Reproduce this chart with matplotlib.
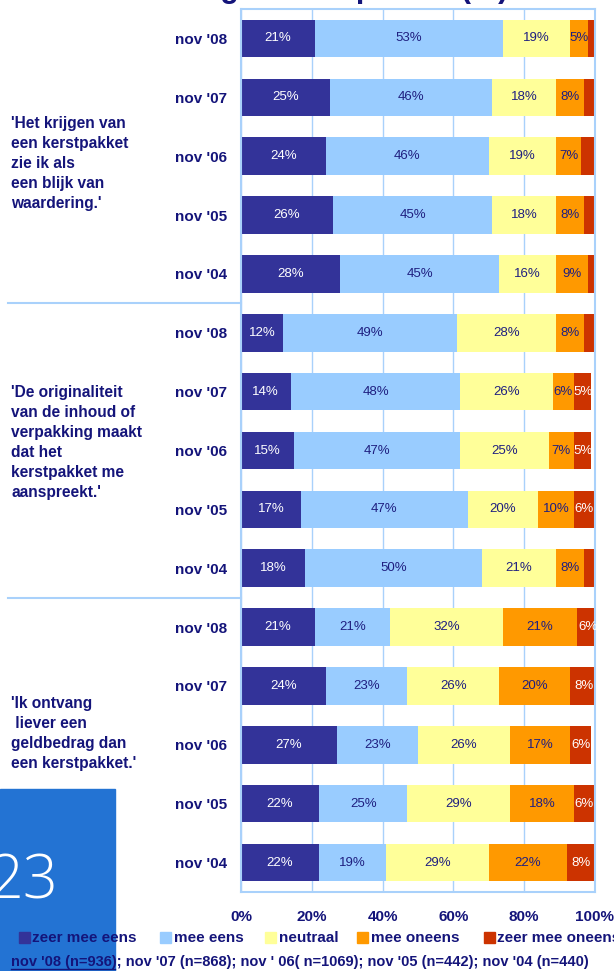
import matplotlib
matplotlib.use("Agg")
import matplotlib.pyplot as plt
from matplotlib.patches import Rectangle
from matplotlib.lines import Line2D
import matplotlib.transforms as mtransforms
import numpy as np

plt.rcParams['font.family'] = ['Liberation Sans', 'DejaVu Sans']

# ---- data -------------------------------------------------------------
periods = ["nov '08", "nov '07", "nov '06", "nov '05", "nov '04"]
statements = [
    "'Het krijgen van\neen kerstpakket\nzie ik als\neen blijk van\nwaardering.'",
    "'De originaliteit\nvan de inhoud of\nverpakking maakt\ndat het\nkerstpakket me\naanspreekt.'",
    "'Ik ontvang\n liever een\ngeldbedrag dan\neen kerstpakket.'",
]
series_names = ["zeer mee eens", "mee eens", "neutraal", "mee oneens", "zeer mee oneens"]
zeer_mee_eens = [21, 25, 24, 26, 28, 12, 14, 15, 17, 18, 21, 24, 27, 22, 22]
mee_eens = [53, 46, 46, 45, 45, 49, 48, 47, 47, 50, 21, 23, 23, 25, 19]
neutraal = [19, 18, 19, 18, 16, 28, 26, 25, 20, 21, 32, 26, 26, 29, 29]
mee_oneens = [5, 8, 7, 8, 9, 8, 6, 7, 10, 8, 21, 20, 17, 18, 22]
zeer_mee_oneens = [2, 3, 4, 3, 3, 3, 5, 5, 6, 3, 6, 8, 6, 6, 8]
x_ticks = [0, 20, 40, 60, 80, 100]
footnote = "nov '08 (n=936); nov '07 (n=868); nov ' 06( n=1069); nov '05 (n=442); nov '04 (n=440)"
title = "Stellingen kerstpakket (%)"

# ---- styling ----------------------------------------------------------
colors = ["#333399", "#99CCFF", "#FFFF99", "#FF9900", "#CC3300"]
label_colors = ["white", "#1F1F80", "#1F1F80", "#1F1F80", "white"]
navy = "#14147A"
grid_col = "#A9D1FB"

W, H = 614, 971
fig = plt.figure(figsize=(W / 100, H / 100), dpi=100)


def fx(px):
    return px / W


def fy(py):
    return 1 - py / H


ax = fig.add_axes([fx(241), fy(892), fx(595) - fx(241), fy(9) - fy(892)])

all_series = [zeer_mee_eens, mee_eens, neutraal, mee_oneens, zeer_mee_oneens]
n = len(zeer_mee_eens)
y = np.arange(n)
left = np.zeros(n)
for vals, col, lcol in zip(all_series, colors, label_colors):
    vals = np.array(vals, dtype=float)
    ax.barh(y, vals, left=left, height=0.637, color=col, edgecolor='none', zorder=2)
    for yi, (l, v) in enumerate(zip(left, vals)):
        if v >= 5:
            ax.text(l + v / 2, yi, f"{int(v)}%", ha='center', va='center',
                    fontsize=9.5, color=lcol, zorder=3)
    left += vals

ax.set_xlim(0, 100)
ax.set_ylim(n - 0.5, -0.5)
ax.set_xticks(x_ticks)
ax.set_xticklabels([f"{t}%" for t in x_ticks])
ax.set_yticks(y)
ax.set_yticklabels(periods * 3)
ax.tick_params(axis='both', length=0, labelsize=11, labelcolor=navy)
ax.tick_params(axis='x', pad=13)
ax.tick_params(axis='y', pad=10)
for lab in ax.get_xticklabels() + ax.get_yticklabels():
    lab.set_fontweight('bold')
ax.xaxis.grid(True, color=grid_col, lw=1.0)
ax.set_axisbelow(True)
for sp in ax.spines.values():
    sp.set_color(grid_col)
    sp.set_linewidth(1.5)

# separators between statement groups on the left
trans = mtransforms.blended_transform_factory(fig.transFigure, ax.transData)
for yb in (4.5, 9.5):
    ax.add_line(Line2D([fx(8), fx(241)], [yb, yb], transform=trans,
                       color=grid_col, lw=1.5, clip_on=False))

# statement texts
for txt, top in zip(statements, (116, 385, 696)):
    fig.text(fx(11), fy(top), txt, ha='left', va='top', fontsize=11.2,
             fontweight='bold', color=navy, linespacing=1.42)

# title (partly above the canvas)
fig.text(fx(129), fy(-2.5), title, ha='left', va='baseline', fontsize=22,
         fontweight='bold', color=navy)

# page number block
fig.patches.append(Rectangle((0, 0), fx(115), fy(789), transform=fig.transFigure,
                             color="#2373D3", zorder=1))
fig.text(fx(-11), fy(898), "23", fontsize=44, color='white', va='baseline',
         ha='left', family=['Open Sans', 'Liberation Sans'], fontweight='light', zorder=2)

# legend
leg_marker_x = [19, 160, 265, 357, 484]
leg_text_x = [32, 174, 279, 371, 497]
for name, col, mx, tx in zip(series_names, colors, leg_marker_x, leg_text_x):
    fig.patches.append(Rectangle((fx(mx), fy(943)), fx(11), fy(932) - fy(943),
                                 transform=fig.transFigure, color=col, zorder=3))
    fig.text(fx(tx), fy(938), name, ha='left', va='center', fontsize=11,
             fontweight='bold', color=navy, zorder=4)

# footnote with sample sizes
fig.text(fx(11), fy(962), footnote, ha='left', va='center', fontsize=10.5,
         fontweight='bold', color=navy, zorder=4)
fig.lines.append(Line2D([fx(11), fx(115)], [fy(968.5), fy(968.5)], transform=fig.transFigure,
                        color=navy, lw=1, zorder=4))

fig.savefig("out.png", dpi=100)
